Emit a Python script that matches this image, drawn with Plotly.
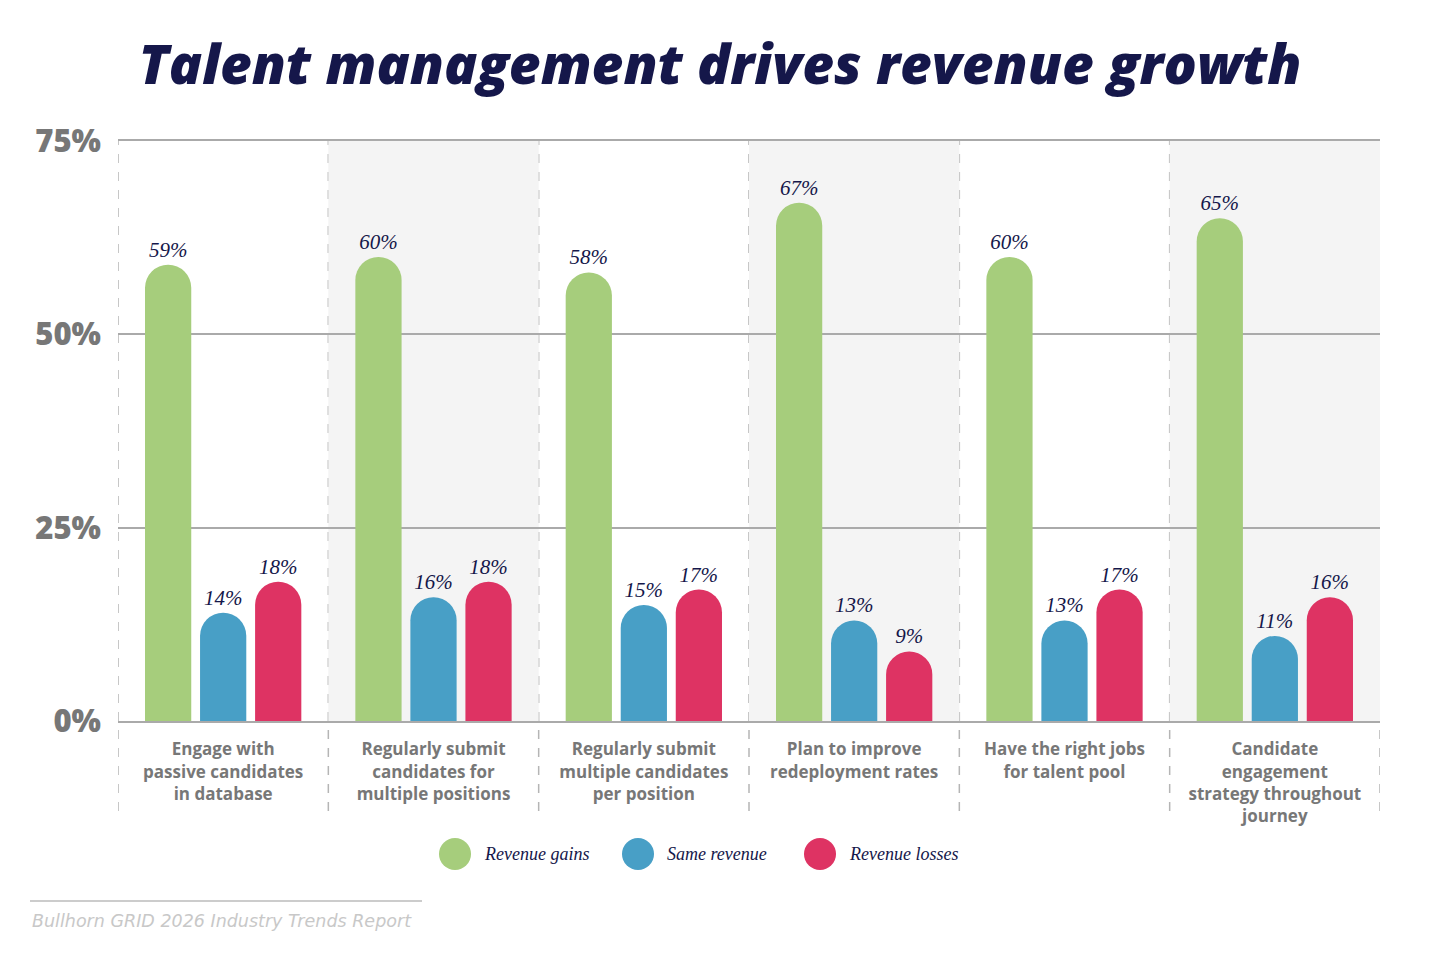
"""talent management vs revenue - grouped bar recreation"""
import plotly.graph_objects as go

CATEGORIES = [
    "Engage with<br>passive candidates<br>in database",
    "Regularly submit<br>candidates for<br>multiple positions",
    "Regularly submit<br>multiple candidates<br>per position",
    "Plan to improve<br>redeployment rates",
    "Have the right jobs<br>for talent pool",
    "Candidate<br>engagement<br>strategy throughout<br>journey",
]
REVENUE_GAINS = [59, 60, 58, 67, 60, 65]
SAME_REVENUE = [14, 16, 15, 13, 13, 11]
REVENUE_LOSSES = [18, 18, 17, 9, 17, 16]
SERIES_NAMES = ["Revenue gains", "Same revenue", "Revenue losses"]
Y_TICKS = [0, 25, 50, 75]
Y_TICK_TEXT = ["0%", "25%", "50%", "75%"]

COLORS = ["#a6cd7c", "#489fc6", "#de3363"]
NAVY = "#15174a"
GRAY = "#777777"
LINE = "#aaaaaa"
SERIF = "Liberation Serif, DejaVu Serif, serif"
SANS = "Open Sans, Roboto, sans-serif"

# plot box in figure pixels (page adds an 8px body margin)
W, H = 1424, 940
L, T, R, B = 110, 133, 1372, 713
PW, PH = R - L, B - T

xs = list(range(len(CATEGORIES)))
fig = go.Figure()
for name, vals, col in zip(SERIES_NAMES, [REVENUE_GAINS, SAME_REVENUE, REVENUE_LOSSES], COLORS):
    fig.add_trace(go.Bar(
        x=xs, y=vals, name=name, marker_color=col, marker_line_width=0,
        marker_cornerradius="50%", text=[f"{v}%" for v in vals], textposition="outside",
        textfont=dict(family=SERIF, size=21, color=NAVY, style="italic"),
        constraintext="none", cliponaxis=False, showlegend=False, hoverinfo="x+y",
    ))

shapes = []
# alternating column shading
for i in xs:
    if i % 2 == 1:
        shapes.append(dict(type="rect", xref="x", yref="y", x0=i - 0.5, x1=i + 0.5,
                           y0=0, y1=75, fillcolor="#f4f4f4", line_width=0, layer="below"))
# dashed separators
for i in range(len(CATEGORIES) + 1):
    shapes.append(dict(type="line", xref="x", yref="paper", x0=i - 0.5, x1=i - 0.5,
                       y0=-0.155, y1=1, line=dict(color="#b5b5b5", width=1.5, dash="dash"),
                       layer="below"))

# hand-made legend with big circles (screen px -> paper)
def px_x(v): return (v - 8 - L) / PW
def px_y(v): return (B - (v - 8)) / PH

legend_x = [455, 638, 820]
annotations = []
for name, col, px in zip(SERIES_NAMES, COLORS, legend_x):
    shapes.append(dict(type="circle", xref="paper", yref="paper",
                       xsizemode="pixel", ysizemode="pixel", xanchor=px_x(px), yanchor=px_y(854),
                       x0=-16, x1=16, y0=-16, y1=16, fillcolor=col, line_width=0))
    annotations.append(dict(text=name, xref="paper", yref="paper", x=px_x(px + 27), y=px_y(854),
                            xanchor="left", yanchor="middle", showarrow=False,
                            font=dict(family=SERIF, size=18, color=NAVY, style="italic")))

# source line + text
shapes.append(dict(type="line", xref="paper", yref="paper", x0=px_x(30), x1=px_x(422),
                   y0=px_y(901), y1=px_y(901), line=dict(color="#cccccc", width=2)))
annotations.append(dict(text="Bullhorn GRID 2026 Industry Trends Report", xref="paper", yref="paper",
                        x=px_x(30), y=px_y(921), xanchor="left", yanchor="middle", showarrow=False,
                        font=dict(family="DejaVu Sans, sans-serif", size=17.5, color="#c8c8c8",
                                  style="italic")))

fig.update_layout(
    width=W, height=H, paper_bgcolor="white", plot_bgcolor="white",
    margin=dict(l=L, r=W - R, t=T, b=H - B),
    barmode="group", bargap=0.215, bargroupgap=0.16,
    title=dict(text="Talent management drives revenue growth", x=0.5, xanchor="center",
               y=1 - 57 / H, yanchor="middle",
               font=dict(family=SANS, size=55, color=NAVY, weight=800, style="italic")),
    shapes=shapes, annotations=annotations,
)
fig.update_xaxes(range=[-0.5, len(CATEGORIES) - 0.5], tickvals=xs, ticktext=CATEGORIES,
                 showline=True, mirror=True, linecolor=LINE, linewidth=2, showgrid=False,
                 ticks="", ticklabelstandoff=12,
                 tickfont=dict(family=SANS, size=17, color=GRAY, weight=700))
fig.update_yaxes(range=[0, 75], tickvals=Y_TICKS, ticktext=Y_TICK_TEXT, showgrid=True,
                 gridcolor=LINE, gridwidth=2, zeroline=False, ticks="", ticklabelstandoff=16,
                 tickfont=dict(family=SANS, size=31, color=GRAY, weight=800))

fig.write_html("out.html")
